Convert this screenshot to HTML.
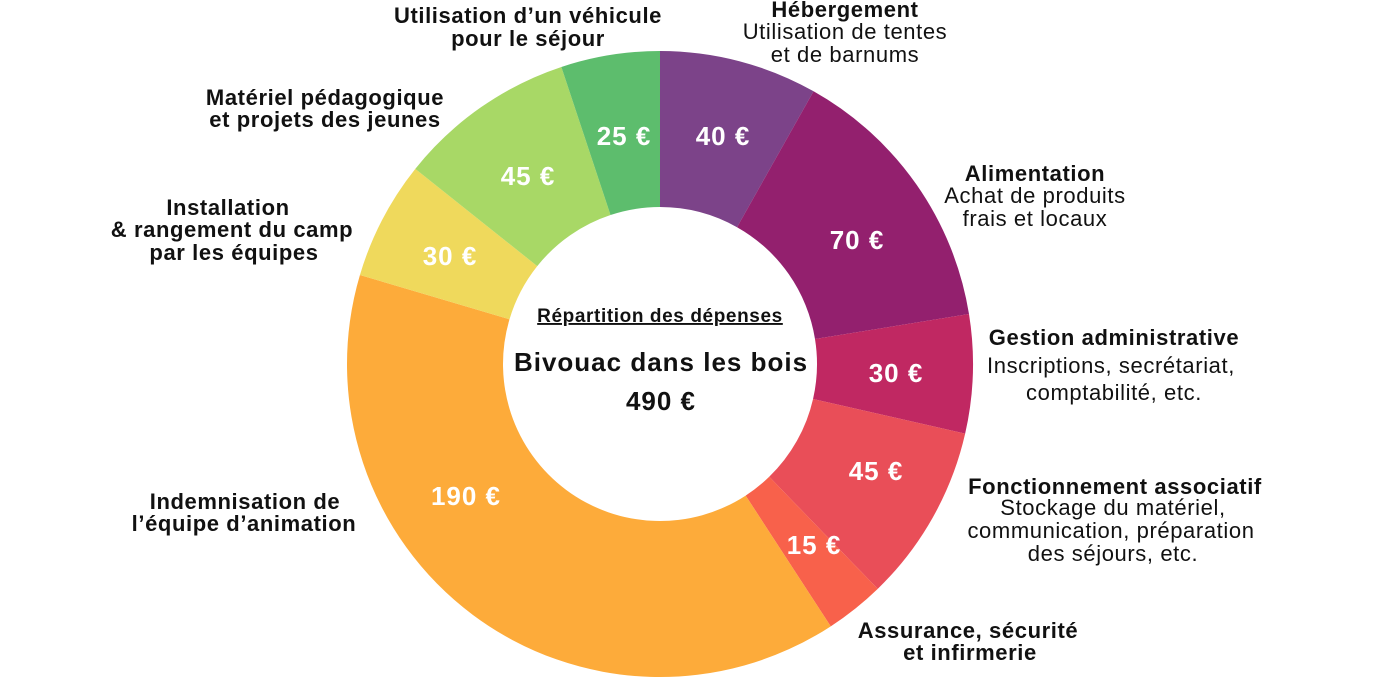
<!DOCTYPE html>
<html><head><meta charset="utf-8"><style>
html,body{margin:0;padding:0;background:#fff;}
svg{display:block;font-family:"Liberation Sans",sans-serif;}
.b{font-weight:bold;font-size:22px;fill:#111;letter-spacing:0.6px;}
.n{font-size:22px;fill:#111;letter-spacing:0.6px;}
.v{font-weight:bold;font-size:26px;fill:#fff;letter-spacing:1px;}
</style></head><body>
<svg id="s" width="1374" height="678" viewBox="0 0 1374 678">
<g id="arcs"></g>
<g text-anchor="middle">
<text class="v" x="723" y="145">40 €</text>
<text class="v" x="857" y="249">70 €</text>
<text class="v" x="896" y="382">30 €</text>
<text class="v" x="876" y="480">45 €</text>
<text class="v" x="814" y="554">15 €</text>
<text class="v" x="466" y="505">190 €</text>
<text class="v" x="450" y="265">30 €</text>
<text class="v" x="528" y="185">45 €</text>
<text class="v" x="624" y="145">25 €</text>

<text class="b" x="660" y="322" text-decoration="underline" style="font-size:19px">Répartition des dépenses</text>
<text class="b" x="661" y="371" style="font-size:26px;letter-spacing:1px">Bivouac dans les bois</text>
<text class="b" x="661" y="410" style="font-size:26px;letter-spacing:1px">490 €</text>

<text class="b" x="528" y="23">Utilisation d’un véhicule</text>
<text class="b" x="528" y="46">pour le séjour</text>
<text class="b" x="845" y="17">Hébergement</text>
<text class="n" x="845" y="39">Utilisation de tentes</text>
<text class="n" x="845" y="62">et de barnums</text>
<text class="b" x="325" y="105">Matériel pédagogique</text>
<text class="b" x="325" y="127">et projets des jeunes</text>
<text class="b" x="228" y="215">Installation</text>
<text class="b" x="232" y="237">&amp; rangement  du camp</text>
<text class="b" x="234" y="260">par les équipes</text>
<text class="b" x="1035" y="181">Alimentation</text>
<text class="n" x="1035" y="203">Achat de produits</text>
<text class="n" x="1035" y="226">frais et locaux</text>
<text class="b" x="1114" y="345">Gestion administrative</text>
<text class="n" x="1111" y="373">Inscriptions, secrétariat,</text>
<text class="n" x="1114" y="400">comptabilité, etc.</text>
<text class="b" x="1115" y="494">Fonctionnement associatif</text>
<text class="n" x="1113" y="515">Stockage du matériel,</text>
<text class="n" x="1111" y="538">communication, préparation</text>
<text class="n" x="1113" y="561">des séjours, etc.</text>
<text class="b" x="968" y="638">Assurance, sécurité</text>
<text class="b" x="970" y="660">et infirmerie</text>
<text class="b" x="245" y="509">Indemnisation de</text>
<text class="b" x="244" y="531">l’équipe d’animation</text>
</g>
</svg>
<script>
var d=[[40,"#7c4389"],[70,"#93206e"],[30,"#c02862"],[45,"#e94e58"],[15,"#f8614b"],[190,"#fdab3a"],[30,"#efd95c"],[45,"#a8d866"],[25,"#5dbd6d"]];
var cx=660,cy=364,R=313,r=157,a=0,h="";
function p(rad,ang){return (cx+rad*Math.sin(ang)).toFixed(2)+","+(cy-rad*Math.cos(ang)).toFixed(2);}
d.forEach(function(e){var b=a+e[0]/490*2*Math.PI;var l=(b-a)>Math.PI?1:0;
h+='<path fill="'+e[1]+'" d="M'+p(R,a)+' A'+R+','+R+' 0 '+l+' 1 '+p(R,b)+' L'+p(r,b)+' A'+r+','+r+' 0 '+l+' 0 '+p(r,a)+' Z"/>';a=b;});
document.getElementById("arcs").innerHTML=h;
</script>
</body></html>
